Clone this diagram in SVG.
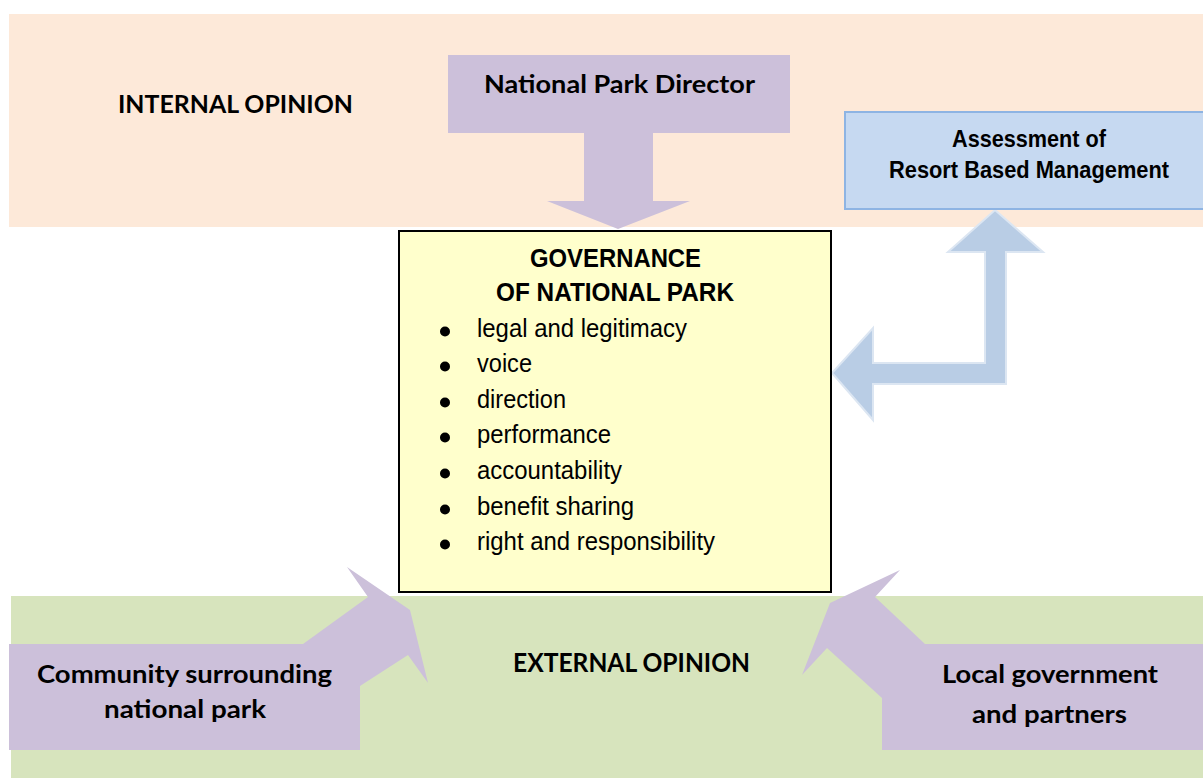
<svg xmlns="http://www.w3.org/2000/svg" width="1203" height="778" viewBox="0 0 1203 778">
  <style>
    .cal { font-family: Lato, "Open Sans", sans-serif; font-weight: bold; fill: #000; }
    .arb { font-family: "Liberation Sans", Arial, sans-serif; font-weight: bold; fill: #000; }
    .arr { font-family: "Liberation Sans", Arial, sans-serif; fill: #000; }
    .purple { fill: #CCC0DA; }
    .bullet { fill: #000; }
  </style>
  <rect width="1203" height="778" fill="#FFFFFF"/>

  <g id="internal-band">
    <rect x="9" y="14" width="1194" height="213" fill="#FDE9D9"/>
    <text class="cal" x="118" y="113" font-size="25" textLength="235" lengthAdjust="spacingAndGlyphs">INTERNAL OPINION</text>
  </g>

  <g id="external-band">
    <rect x="11" y="596" width="1192" height="182" fill="#D7E4BD"/>
    <text class="cal" x="513" y="672" font-size="26" textLength="237" lengthAdjust="spacingAndGlyphs">EXTERNAL OPINION</text>
  </g>

  <g id="connectors">
    <path id="director-arrow" class="purple" d="M448,55 H790 V133 H653 V201 H690 L618,229 L547,201 H584 V133 H448 Z"/>
    <path id="community-arrow" class="purple" d="M9,644 H303 L368,597 L347,567 L410,610 L428,683 L408,655 L360,686 V750 H9 Z"/>
    <path id="local-arrow" class="purple" d="M1203,644 H925 L875,597 L900,570 L830,603 L802,675 L827,648 L882,698 V750 H1203 Z"/>
    <path id="assessment-arrow" d="M995,210 L1043,252 H1006 V384 H873 V420 L832,373 L873,328 V363 H985 V252 H948 Z" fill="#B9CDE5" stroke="#DCE6F2" stroke-width="2" stroke-linejoin="miter"/>
  </g>

  <g id="director">
    <text class="cal" x="484" y="93" font-size="25" textLength="271" lengthAdjust="spacingAndGlyphs">National Park Director</text>
  </g>

  <g id="assessment">
    <rect x="845" y="112" width="358" height="97" fill="#C6D9F1"/>
    <path d="M1203,112 H845 V209 H1203" fill="none" stroke="#8EB4E3" stroke-width="2"/>
    <text class="arb" x="952" y="147" font-size="24" textLength="154" lengthAdjust="spacingAndGlyphs">Assessment of</text>
    <text class="arb" x="889" y="178" font-size="24" textLength="280" lengthAdjust="spacingAndGlyphs">Resort Based Management</text>
  </g>

  <g id="governance">
    <rect x="399" y="231" width="432" height="361" fill="#FFFFCC" stroke="#000" stroke-width="2"/>
    <text class="arb" x="530" y="267" font-size="26" textLength="171" lengthAdjust="spacingAndGlyphs">GOVERNANCE</text>
    <text class="arb" x="496" y="301" font-size="26" textLength="238" lengthAdjust="spacingAndGlyphs">OF NATIONAL PARK</text>
    <circle class="bullet" cx="445" cy="331.5" r="5"/>
    <circle class="bullet" cx="445" cy="366.5" r="5"/>
    <circle class="bullet" cx="445" cy="402.5" r="5"/>
    <circle class="bullet" cx="445" cy="437.5" r="5"/>
    <circle class="bullet" cx="445" cy="473.5" r="5"/>
    <circle class="bullet" cx="445" cy="509.5" r="5"/>
    <circle class="bullet" cx="445" cy="544.5" r="5"/>
    <text class="arr" x="477" y="337" font-size="26" textLength="210" lengthAdjust="spacingAndGlyphs">legal and legitimacy</text>
    <text class="arr" x="477" y="372" font-size="26" textLength="55" lengthAdjust="spacingAndGlyphs">voice</text>
    <text class="arr" x="477" y="408" font-size="26" textLength="89" lengthAdjust="spacingAndGlyphs">direction</text>
    <text class="arr" x="477" y="443" font-size="26" textLength="134" lengthAdjust="spacingAndGlyphs">performance</text>
    <text class="arr" x="477" y="479" font-size="26" textLength="145" lengthAdjust="spacingAndGlyphs">accountability</text>
    <text class="arr" x="477" y="515" font-size="26" textLength="157" lengthAdjust="spacingAndGlyphs">benefit sharing</text>
    <text class="arr" x="477" y="550" font-size="26" textLength="238" lengthAdjust="spacingAndGlyphs">right and responsibility</text>
  </g>

  <g id="community">
    <text class="cal" x="37" y="683" font-size="24" textLength="295" lengthAdjust="spacingAndGlyphs">Community surrounding</text>
    <text class="cal" x="104" y="718" font-size="24" textLength="162" lengthAdjust="spacingAndGlyphs">national park</text>
  </g>

  <g id="local-government">
    <text class="cal" x="942" y="683" font-size="24" textLength="216" lengthAdjust="spacingAndGlyphs">Local government</text>
    <text class="cal" x="972" y="723" font-size="24" textLength="155" lengthAdjust="spacingAndGlyphs">and partners</text>
  </g>
</svg>
